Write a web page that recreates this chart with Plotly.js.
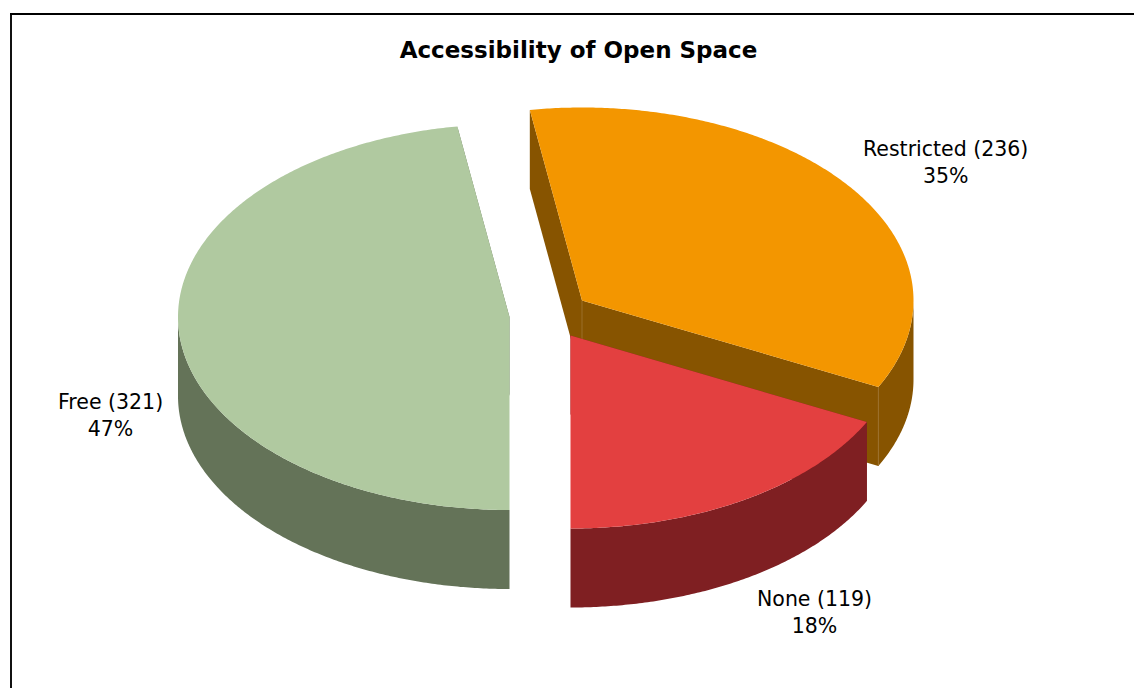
<!DOCTYPE html>
<html>
<head>
<meta charset="utf-8">
<script src="https://cdn.plot.ly/plotly-3.0.1.min.js"></script>
<style>html,body{margin:0;padding:0;background:#fff;overflow:hidden}#c{width:1134px;height:688px}</style>
</head>
<body>
<div id="c"></div>
<script>
// Data
const categories = ["Free", "Restricted", "None"];
const values = [321, 236, 119];
const chartTitle = "Accessibility of Open Space";

// Styles
const topColors = ["#B0C9A0", "#F39600", "#E34040"];
const sideColors = ["#647358", "#875400", "#7F1F22"];
const seamColors = [null, "#9a6e28", null];
const apexX = [509.5, 582, 570.5];
const apexY = [317, 300.5, 335.5];
const labelX = [110.5, 945.5, 814];
const labelY = [415, 162, 612];
const RX = 331.5, RY = 193, DEPTH = 79;
const drawOrder = [1, 0, 2];

const total = values.reduce((a, b) => a + b, 0);
const startDeg = [];
values.reduce((acc, v, i) => { startDeg[i] = acc; return acc + v / total * 360; }, 0);

// clockwise angle measured from the front (south) of the ellipse
function pt(i, deg, drop) {
  const t = deg * Math.PI / 180;
  return [apexX[i] - RX * Math.sin(t), apexY[i] + RY * Math.cos(t) + (drop || 0)];
}
function arc(i, a, b, drop) {
  const out = [];
  const n = Math.max(2, Math.ceil(Math.abs(b - a) * 2));
  for (let k = 0; k <= n; k++) out.push(pt(i, a + (b - a) * k / n, drop));
  return out;
}
const traces = [];
function poly(points, color) {
  const closed = points.concat([points[0]]);
  traces.push({
    x: closed.map(p => p[0]), y: closed.map(p => p[1]),
    type: "scatter", mode: "lines", fill: "toself", fillcolor: color,
    line: { width: 0, color: color, simplify: false }, hoverinfo: "skip"
  });
}
function seam(p, q, color) {
  if (!color) return;
  traces.push({
    x: [p[0], q[0]], y: [p[1], q[1]], type: "scatter", mode: "lines",
    line: { width: 1, color: color, simplify: false }, hoverinfo: "skip"
  });
}

drawOrder.forEach(i => {
  const a = startDeg[i], b = a + values[i] / total * 360;
  const apex = [apexX[i], apexY[i]], apexLow = [apexX[i], apexY[i] + DEPTH];
  // cut faces
  poly([apex, pt(i, a), pt(i, a, DEPTH), apexLow], sideColors[i]);
  poly([apex, pt(i, b), pt(i, b, DEPTH), apexLow], sideColors[i]);
  // outer rim: only the front half of the ellipse faces the viewer
  [[Math.max(a, 0), Math.min(b, 90)], [Math.max(a, 270), Math.min(b, 360)]].forEach(r => {
    if (r[1] > r[0]) {
      poly(arc(i, r[0], r[1]).concat(arc(i, r[1], r[0], DEPTH)), sideColors[i]);
    }
  });
  seam(apex, apexLow, seamColors[i]);
  seam(pt(i, b), pt(i, b, DEPTH), seamColors[i]);
  // top face
  poly([apex].concat(arc(i, a, b)), topColors[i]);
});

const annotations = categories.map((c, i) => ({
  xref: "x", yref: "y", x: labelX[i], y: labelY[i],
  text: c + " (" + values[i] + ")<br>" + Math.round(values[i] / total * 100) + "%",
  showarrow: false, xanchor: "center", yanchor: "middle", align: "center",
  font: { family: "DejaVu Sans", size: 20.5, color: "#000" }
}));

const layout = {
  width: 1134, height: 688,
  margin: { l: 0, r: 0, t: 0, b: 0 },
  paper_bgcolor: "#fff", plot_bgcolor: "#fff",
  showlegend: false, hovermode: false,
  title: {
    text: "<b>" + chartTitle + "</b>",
    x: 578.5 / 1134, xanchor: "center", y: 1 - 50 / 688, yanchor: "middle",
    font: { family: "DejaVu Sans", size: 23, color: "#000" }
  },
  xaxis: { range: [0, 1134], visible: false, fixedrange: true },
  yaxis: { range: [688, 0], visible: false, fixedrange: true },
  annotations: annotations,
  shapes: [
    { type: "line", xref: "x", yref: "y", x0: 11, x1: 11, y0: 13, y1: 688, line: { color: "#111", width: 2 } },
    { type: "line", xref: "x", yref: "y", x0: 10, x1: 1134, y0: 14, y1: 14, line: { color: "#000", width: 2 } }
  ]
};
Plotly.newPlot("c", traces, layout, { staticPlot: true, displayModeBar: false });
</script>
</body>
</html>
